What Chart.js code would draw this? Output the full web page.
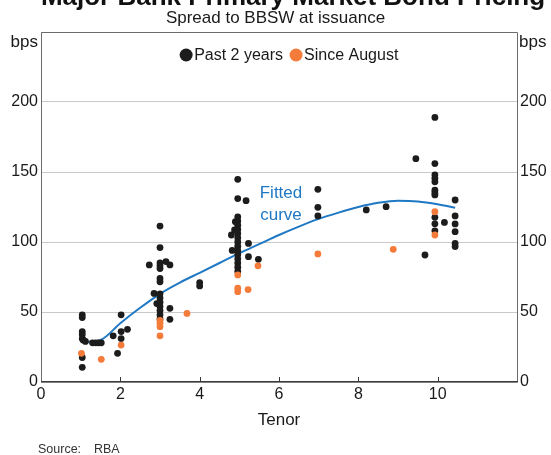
<!DOCTYPE html>
<html>
<head>
<meta charset="utf-8">
<script src="https://cdn.jsdelivr.net/npm/chart.js@4.4.1/dist/chart.umd.min.js"></script>
<style>
  html, body { margin: 0; padding: 0; background: #fff; }
  canvas { display: block; }
</style>
</head>
<body>
<canvas id="bondChart" width="551" height="455"></canvas>
<script>
// Past 2 years issuance (tenor in years, spread in bps)
var pastTenor = [1.04, 1.04, 1.04, 1.04, 1.04, 1.06, 1.12, 1.04, 1.04,
  1.3, 1.38, 1.45, 1.52,
  1.82, 1.93, 2.02, 2.02, 2.02, 2.18,
  2.73, 2.85, 2.92, 3.0, 3.0, 3.0, 3.0, 3.0, 3.0, 3.0, 3.0, 3.0, 3.0, 3.0, 3.0, 3.0, 3.0, 3.15, 3.25, 3.25, 3.25,
  4.0, 4.0,
  4.8, 4.82, 4.9, 4.88, 4.96, 4.96, 5.17,
  4.96, 4.96, 4.96, 4.96, 4.96, 4.96, 4.96, 4.96, 4.96, 4.96, 4.96, 4.96, 4.96, 4.96,
  5.23, 5.23, 5.48,
  6.98, 6.98, 6.98, 8.2, 8.7, 9.45, 9.68,
  9.93, 9.93, 9.93, 9.93, 9.93, 9.93, 9.93, 9.93, 9.93, 9.93, 9.93, 10.17,
  10.44, 10.44, 10.44, 10.44, 10.44, 10.44];
var pastSpread = [48, 46, 36, 34, 31, 30, 29, 17.5, 10.5,
  28, 28, 28, 28,
  33, 20.5, 48, 36, 31, 37.6,
  83.6, 63.3, 56, 111.4, 96, 85, 83, 81, 74, 71.6, 63, 60, 57, 54, 51, 48, 45, 86, 83.6, 52.6, 44.8,
  71, 68.6,
  105, 94, 114.5, 108.6, 144.8, 131, 129.5,
  118, 115, 112, 109, 106, 103, 100, 97, 94, 91, 88, 85, 82, 79,
  99, 89.5, 87.6,
  137.6, 124.8, 118.6, 122.9, 125.2, 159.5, 90.7,
  189, 156, 148, 145.5, 143, 137, 135, 133.6, 117.6, 113, 108, 114,
  130, 118.6, 112.9, 107.4, 99, 96.7];

// Since August issuance
var sinceTenor = [1.02, 1.52, 2.02, 3.0, 3.0, 3.0, 3.0, 3.68, 4.96, 4.96, 4.96, 5.22, 5.47, 6.98, 8.88, 9.93, 9.93];
var sinceSpread = [20.5, 16.2, 26.4, 44, 42, 39.5, 33, 49, 76.5, 67, 64.5, 66, 83, 91.5, 94.8, 121.6, 105];

// Fitted curve
var curveTenor = [1.08, 1.5, 2, 2.5, 3, 3.5, 4, 4.5, 5, 5.5, 6, 6.5, 7, 7.5, 8, 8.5, 9, 9.5, 10, 10.44];
var curveSpread = [28.5, 30, 42, 53, 63, 71, 78, 85, 92, 98.5, 105, 111, 116.5, 121, 125, 128, 129.5, 129, 127, 124.5];

var FONT = 'Arial, "Liberation Sans", Helvetica, sans-serif';
var BLACK = '#1c1c1c', ORANGE = '#f47b3a', BLUE = '#1f78c4';

function pts(xs, ys){ return xs.map(function(x, i){ return { x: x, y: ys[i] }; }); }

var decor = {
  id: 'decor',
  beforeDatasetsDraw: function(chart){
    var ctx = chart.ctx, a = chart.chartArea, xs = chart.scales.x;
    ctx.save();
    ctx.lineWidth = 1;
    ctx.strokeStyle = '#6b6b6b';
    ctx.beginPath();
    ctx.moveTo(Math.round(a.left) + 0.5, Math.round(a.bottom));
    ctx.lineTo(Math.round(a.left) + 0.5, Math.round(a.top) + 0.5);
    ctx.lineTo(Math.round(a.right) + 0.5, Math.round(a.top) + 0.5);
    ctx.lineTo(Math.round(a.right) + 0.5, Math.round(a.bottom));
    ctx.stroke();
    // x axis line and inward ticks
    ctx.strokeStyle = '#3a3a3a';
    ctx.lineWidth = 1.5;
    ctx.beginPath();
    ctx.moveTo(a.left, Math.round(a.bottom) - 0.25);
    ctx.lineTo(a.right + 1, Math.round(a.bottom) - 0.25);
    ctx.stroke();
    ctx.lineWidth = 1;
    [2, 4, 6, 8, 10].forEach(function(v){
      var px = Math.round(xs.getPixelForValue(v)) + 0.5;
      ctx.beginPath(); ctx.moveTo(px, a.bottom); ctx.lineTo(px, a.bottom - 5); ctx.stroke();
    });
    ctx.restore();
  },
  afterDraw: function(chart){
    var ctx = chart.ctx, a = chart.chartArea, xs = chart.scales.x, ys = chart.scales.y;
    ctx.save();
    // title, cropped at the top edge as in the source graphic
    ctx.fillStyle = '#111';
    ctx.font = 'bold 26px ' + FONT;
    ctx.textAlign = 'center'; ctx.textBaseline = 'alphabetic';
    ctx.fillText('Major Bank Primary Market Bond Pricing', 293, 5);

    ctx.textBaseline = 'middle';
    ctx.font = '16px ' + FONT;
    // legend
    var items = [{ t: 'Past 2 years', c: BLACK }, { t: 'Since August', c: ORANGE }];
    var r = 6.5, gap = 1.5, sep = 6.5, total = 0;
    items.forEach(function(it){ it.w = 2 * r + gap + ctx.measureText(it.t).width; total += it.w; });
    total += sep;
    var lx = 289 - total / 2, ly = a.top + 23;
    items.forEach(function(it){
      ctx.fillStyle = it.c;
      ctx.beginPath(); ctx.arc(lx + r, ly, r, 0, Math.PI * 2); ctx.fill();
      ctx.fillStyle = '#1a1a1a'; ctx.textAlign = 'left';
      ctx.fillText(it.t, lx + 2 * r + gap, ly + 1);
      lx += it.w + sep;
    });
    // units
    ctx.fillStyle = '#1a1a1a';
    ctx.font = '17px ' + FONT;
    ctx.textAlign = 'right'; ctx.fillText('bps', a.left - 3, a.top + 10);
    ctx.textAlign = 'left'; ctx.fillText('bps', a.right + 2, a.top + 10);
    // curve label
    ctx.fillStyle = BLUE; ctx.font = '17px ' + FONT; ctx.textAlign = 'center';
    ctx.fillText('Fitted', xs.getPixelForValue(6.05), ys.getPixelForValue(134.5));
    ctx.fillText('curve', xs.getPixelForValue(6.05), ys.getPixelForValue(119));
    // source
    ctx.fillStyle = '#333'; ctx.font = '12.5px ' + FONT; ctx.textAlign = 'left';
    ctx.fillText('Source:', 38, 449.5);
    ctx.fillText('RBA', 94, 449.5);
    ctx.restore();
  }
};

new Chart(document.getElementById('bondChart'), {
  type: 'scatter',
  data: {
    datasets: [
      { label: 'Since August', data: pts(sinceTenor, sinceSpread), backgroundColor: ORANGE, borderColor: ORANGE,
        pointRadius: 3.4, borderWidth: 0, order: 1 },
      { label: 'Past 2 years', data: pts(pastTenor, pastSpread), backgroundColor: BLACK, borderColor: BLACK,
        pointRadius: 3.4, borderWidth: 0, order: 2 },
      { type: 'line', label: 'Fitted curve', data: pts(curveTenor, curveSpread), borderColor: BLUE, borderWidth: 2,
        pointRadius: 0, fill: false, tension: 0.4, cubicInterpolationMode: 'monotone', order: 3 }
    ]
  },
  options: {
    responsive: false,
    animation: false,
    layout: { padding: 0 },
    plugins: {
      legend: { display: false },
      tooltip: { enabled: false },
      title: { display: false },
      subtitle: { display: true, text: 'Spread to BBSW at issuance', color: '#1a1a1a',
        font: { family: FONT, size: 17 }, padding: { top: 7.8, bottom: 3.8 } }
    },
    scales: {
      x: {
        type: 'linear', min: 0, max: 12,
        grid: { display: false }, border: { display: false },
        ticks: { stepSize: 2, color: '#1a1a1a', padding: -5, maxRotation: 0, font: { family: FONT, size: 16 },
          callback: function(v){ return v <= 10 ? v : ''; } },
        title: { display: true, text: 'Tenor', color: '#1a1a1a', font: { family: FONT, size: 17 }, padding: { top: 0, bottom: 24.8 } },
        afterFit: function(s){ s.height = 73; }
      },
      y: {
        position: 'left', min: 0, max: 250,
        grid: { color: '#c9c9c9', drawTicks: false }, border: { display: false },
        ticks: { stepSize: 50, color: '#1a1a1a', padding: 3, font: { family: FONT, size: 16 },
          callback: function(v){ return v <= 200 ? v : ''; } },
        afterFit: function(s){ s.width = 41; }
      },
      y2: {
        position: 'right', min: 0, max: 250,
        grid: { drawOnChartArea: false, drawTicks: false }, border: { display: false },
        ticks: { stepSize: 50, color: '#1a1a1a', padding: 3, font: { family: FONT, size: 16 },
          callback: function(v){ return v <= 200 ? v : ''; } },
        afterFit: function(s){ s.width = 34; }
      }
    }
  },
  plugins: [decor]
});
</script>
</body>
</html>
